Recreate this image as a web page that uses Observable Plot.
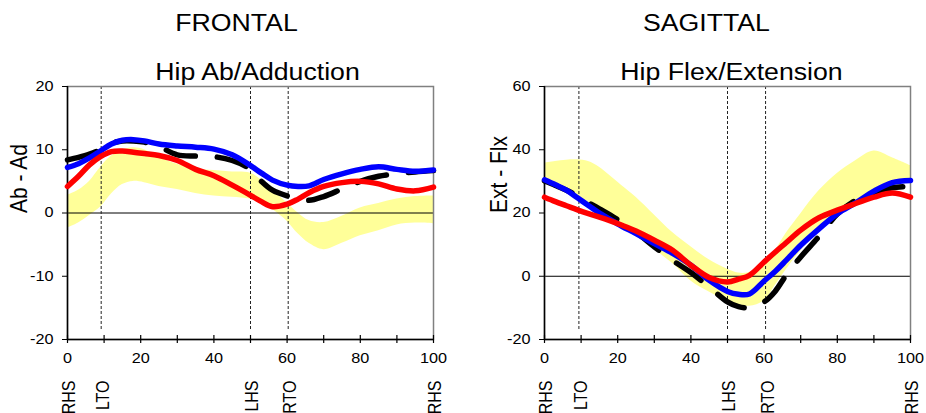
<!DOCTYPE html>
<html>
<head>
<meta charset="utf-8">
<script src="https://cdn.jsdelivr.net/npm/d3@7"></script>
<script src="https://cdn.jsdelivr.net/npm/@observablehq/plot@0.6"></script>
<style>
  html, body { margin: 0; padding: 0; background: #fff; }
  #chart { display: flex; width: 926px; height: 413px; overflow: hidden; }
  #chart svg { display: block; }
</style>
</head>
<body>
<div id="chart"></div>
<script>
// Percent of gait cycle at which every curve is sampled
const cycle = [0, 3, 6, 9, 12, 15, 18, 21, 25, 30, 35, 40, 45, 50, 53, 56, 60, 63, 66, 70, 75, 80, 85, 90, 95, 100];

// Frontal plane: hip ab/adduction (degrees)
const frontalBlue  = [7.2, 7.8, 8.7, 9.8, 10.9, 11.5, 11.6, 11.4, 10.9, 10.6, 10.4, 10.1, 9.2, 7.5, 6.3, 5.2, 4.4, 4.2, 4.3, 5.3, 6.2, 6.9, 7.3, 6.9, 6.6, 6.8];
const frontalRed   = [4.2, 5.8, 7.6, 8.9, 9.7, 9.8, 9.6, 9.4, 9.1, 8.3, 6.9, 5.9, 4.4, 2.8, 1.8, 1.0, 1.4, 2.2, 3.2, 4.2, 4.8, 5.0, 4.6, 3.8, 3.5, 4.1];
const frontalBlack = [8.4, 8.8, 9.3, 10.0, 11.0, 11.4, 11.4, 11.2, 10.5, 9.2, 9.0, 8.9, 8.3, 6.9, 5.0, 3.6, 2.7, 2.3, 2.0, 2.6, 3.8, 5.0, 5.8, 6.2, 6.5, 6.7];
const frontalUpper = [2.8, 3.6, 5.0, 7.2, 9.0, 9.9, 10.3, 10.0, 8.8, 7.7, 7.0, 6.7, 6.5, 6.3, 5.2, 3.6, 1.6, 0.0, -1.2, -1.5, -0.5, 0.8, 1.5, 2.2, 2.6, 2.7];
const frontalLower = [-2.4, -1.6, -0.4, 0.9, 3.0, 4.5, 5.0, 4.8, 4.2, 3.7, 3.1, 2.7, 2.5, 2.2, 1.7, 0.6, -1.3, -3.3, -4.8, -5.8, -4.8, -3.6, -2.8, -1.9, -1.6, -1.7];

// Sagittal plane: hip flexion/extension (degrees)
const sagittalBlue  = [30.5, 28.9, 27.2, 24.8, 22.4, 20.0, 17.9, 15.9, 13.5, 10.3, 7.2, 3.5, -1.3, -4.8, -5.7, -5.6, -1.5, 1.5, 5.0, 9.8, 15.0, 19.8, 23.2, 26.9, 29.6, 30.3];
const sagittalRed   = [25.0, 23.6, 22.3, 21.0, 19.8, 18.7, 17.5, 16.2, 14.3, 11.4, 8.2, 3.5, -0.4, -1.8, -0.9, 0.3, 4.5, 7.6, 10.6, 14.6, 18.5, 20.9, 23.0, 25.0, 26.3, 25.0];
const sagittalBlack = [30.1, 28.7, 27.2, 25.4, 23.3, 21.3, 19.3, 17.1, 14.0, 9.3, 5.0, 1.2, -3.4, -8.1, -9.6, -9.9, -8.1, -4.8, 0.3, 6.1, 12.6, 19.7, 24.0, 26.5, 28.0, 28.4];
const sagittalUpper = [35.8, 36.3, 36.7, 36.8, 36.3, 34.5, 31.7, 28.8, 25.0, 19.4, 13.8, 9.3, 5.2, 2.2, 1.0, 1.2, 4.2, 8.0, 13.5, 19.7, 27.0, 32.5, 36.5, 39.6, 37.5, 35.0];
const sagittalLower = [30.0, 28.5, 27.0, 25.2, 23.2, 21.0, 18.6, 16.2, 13.0, 8.5, 4.0, -1.5, -5.0, -8.0, -9.0, -9.5, -7.8, -3.0, 2.0, 8.0, 14.5, 19.5, 23.5, 26.3, 28.5, 29.7];

// Gait events
const eventNames = ["RHS", "LTO", "LHS", "RTO", "RHS"];
const frontalEvents = [0, 9.2, 50, 60.3, 100];
const sagittalEvents = [0, 9.4, 50, 60.4, 100];

// Axis ticks
const xTickLabels = [0, 20, 40, 60, 80, 100];
const xTickMarks = [0, 10, 20, 30, 40, 50, 60, 70, 80, 90, 100];
const frontalYTicks = [-20, -10, 0, 10, 20];
const sagittalYTicks = [-20, 0, 20, 40, 60];

const FONT = "'Liberation Sans', Arial, Helvetica, sans-serif";

function series(ys) {
  return cycle.map((x, i) => ({x, y: ys[i]}));
}

function band(lo, hi) {
  return cycle.map((x, i) => ({x, lo: lo[i], hi: hi[i]}));
}

// Widen glyphs horizontally around each label's anchor point
function widenText(svg, k) {
  svg.querySelectorAll("text").forEach((t) => {
    const tr = t.getAttribute("transform");
    if (!tr) return;
    t.setAttribute("transform", tr + (tr.includes("rotate") ? ` scale(1,${k})` : ` scale(${k},1)`));
  });
}

function panel({title, subtitle, yLabel, yDomain, yTicks, blue, red, black, upper, lower, events,
                marginLeft, marginRight, titleDx, subtitleDx, yLabelDx}) {
  const events3 = events.slice(1, 4);
  const labels = events.map((x, i) => ({x, name: eventNames[i]}));
  const yMin = yDomain[0];
  const svg = Plot.plot({
    width: 463,
    height: 413,
    marginLeft,
    marginRight,
    marginTop: 86,
    marginBottom: 74,
    style: {fontFamily: FONT, fontSize: "14px", color: "black", background: "white", overflow: "visible"},
    x: {domain: [0, 100], label: null},
    y: {domain: yDomain, label: null},
    marks: [
      Plot.areaY(band(lower, upper), {x: "x", y1: "lo", y2: "hi", fill: "#ffff99", curve: "catmull-rom"}),
      Plot.ruleY([0], {stroke: "black", strokeWidth: 1}),
      Plot.ruleX(events3, {stroke: "#222", strokeWidth: 1, strokeDasharray: "3,2", insetBottom: 9}),
      Plot.frame({stroke: "#808080", strokeWidth: 1.5}),
      Plot.ruleX([0], {stroke: "black", strokeWidth: 1.5}),
      Plot.ruleY([yMin], {stroke: "black", strokeWidth: 1.5}),
      Plot.ruleX(xTickMarks, {y1: yMin, y2: yMin, insetTop: -4, insetBottom: -4, stroke: "black", strokeWidth: 1.2}),
      Plot.axisY({ticks: yTicks, tickSize: 5, tickPadding: 9, tickFormat: String, label: null, fontSize: 14}),
      Plot.axisX({ticks: xTickLabels, tickSize: 0, tickPadding: 14, tickFormat: String, label: null, fontSize: 14}),
      Plot.line(series(black), {x: "x", y: "y", stroke: "black", strokeWidth: 5.5, strokeDasharray: "30,22", strokeLinecap: "round", curve: "catmull-rom"}),
      Plot.line(series(blue), {x: "x", y: "y", stroke: "#0000ff", strokeWidth: 5.5, curve: "catmull-rom"}),
      Plot.line(series(red), {x: "x", y: "y", stroke: "#ff0000", strokeWidth: 5.5, curve: "catmull-rom"}),
      Plot.text([title], {text: (d) => d, frameAnchor: "top", lineAnchor: "bottom", dy: -56, dx: titleDx, fontSize: 23}),
      Plot.text([subtitle], {text: (d) => d, frameAnchor: "top", lineAnchor: "bottom", dy: -7, dx: subtitleDx, fontSize: 23}),
      Plot.text([yLabel], {text: (d) => d, frameAnchor: "left", rotate: -90, lineAnchor: "middle", dx: yLabelDx, fontSize: 21}),
      Plot.text(labels, {x: "x", text: "name", frameAnchor: "bottom", rotate: -90, textAnchor: "end", lineAnchor: "middle", dy: 41, dx: 2, fontSize: 16})
    ]
  });
  widenText(svg, 1.16);
  return svg;
}

const root = document.getElementById("chart");

root.appendChild(panel({
  title: "FRONTAL",
  subtitle: "Hip Ab/Adduction",
  yLabel: "Ab - Ad",
  yDomain: [-20, 20],
  yTicks: frontalYTicks,
  blue: frontalBlue, red: frontalRed, black: frontalBlack,
  upper: frontalUpper, lower: frontalLower,
  events: frontalEvents,
  marginLeft: 67, marginRight: 30,
  titleDx: -14, subtitleDx: 7, yLabelDx: -48
}));

root.appendChild(panel({
  title: "SAGITTAL",
  subtitle: "Hip Flex/Extension",
  yLabel: "Ext - Flx",
  yDomain: [-20, 60],
  yTicks: sagittalYTicks,
  blue: sagittalBlue, red: sagittalRed, black: sagittalBlack,
  upper: sagittalUpper, lower: sagittalLower,
  events: sagittalEvents,
  marginLeft: 81, marginRight: 16,
  titleDx: -21, subtitleDx: 4, yLabelDx: -45
}));
</script>
</body>
</html>
